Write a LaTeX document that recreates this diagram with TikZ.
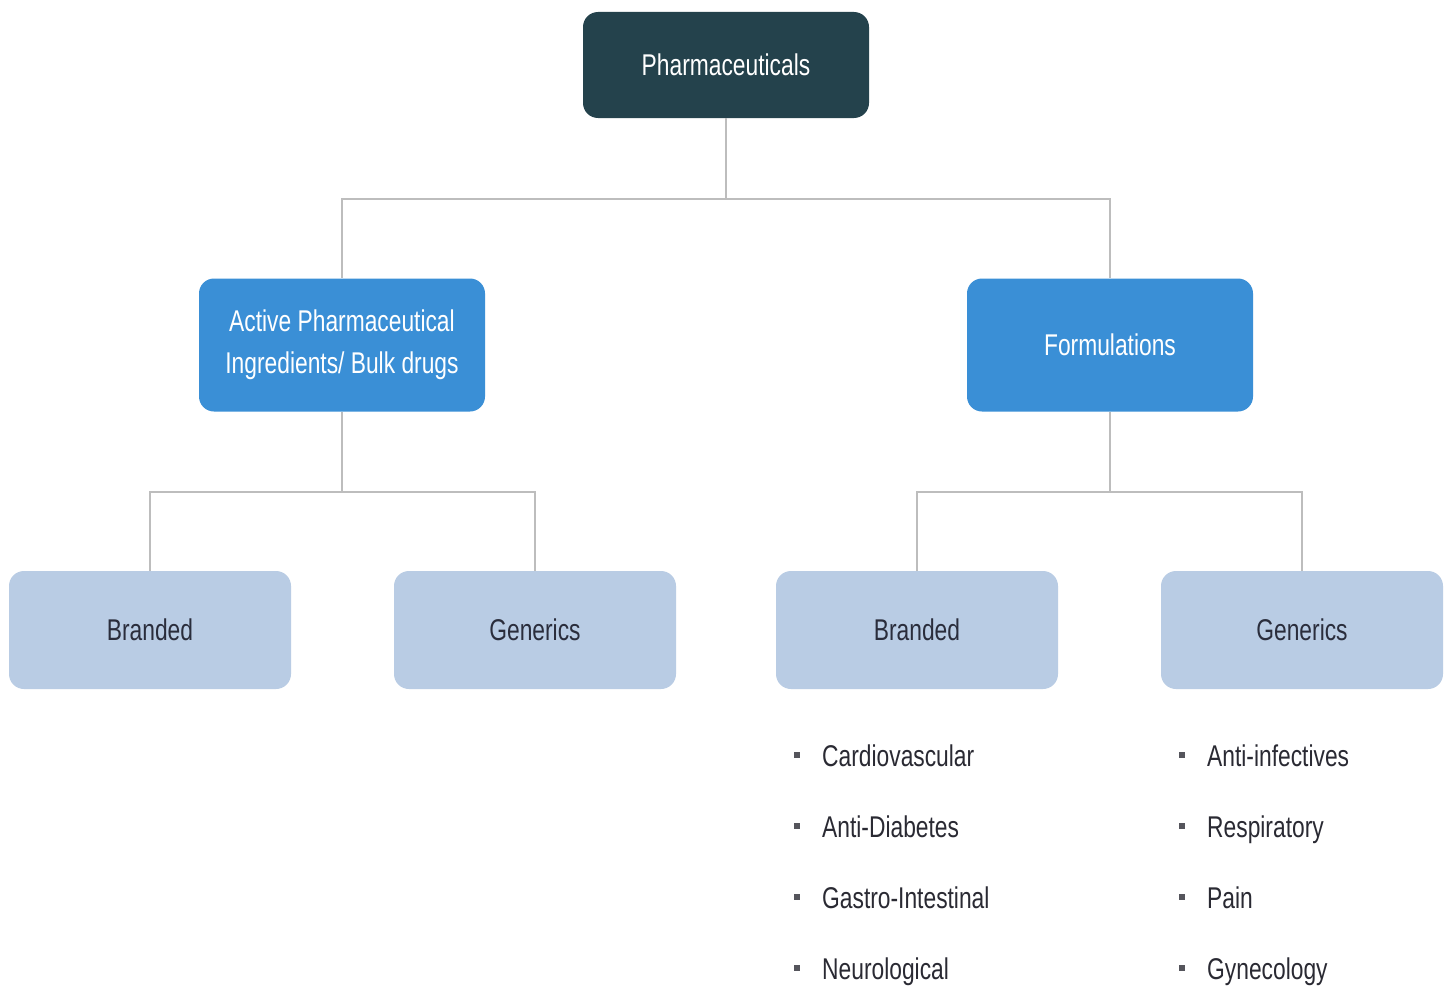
\documentclass[tikz,border=0pt]{standalone}
\usepackage{fontspec}
\setmainfont[FakeStretch=0.76]{Liberation Sans}
\begin{document}
\begin{tikzpicture}[x=1pt,y=-1pt,
  base/.style={rounded corners=15pt, minimum width=286pt, align=center, font=\fontsize{30}{42}\selectfont},
  topbox/.style={base, fill=topc, text=white, minimum height=106pt},
  midbox/.style={base, fill=midc, text=white, minimum height=133pt},
  leafbox/.style={base, fill=leafc, text=leaftext, minimum width=282pt, minimum height=118pt},
  conn/.style={draw=linec, line width=1.3pt},
  item/.style={anchor=base west, text=itemc, font=\fontsize{30}{36}\selectfont, inner sep=0pt},
  bul/.style={fill=itemc!80, minimum size=6pt, inner sep=0pt}
]
\definecolor{topc}{HTML}{24424C}
\definecolor{midc}{HTML}{3A8FD6}
\definecolor{leafc}{HTML}{B9CCE4}
\definecolor{leaftext}{HTML}{2A2D3C}
\definecolor{linec}{HTML}{BDBDBD}
\definecolor{itemc}{HTML}{2A2A33}
\useasboundingbox[fill=white] (0,0) rectangle (1448,990);

\node[topbox] (ph) at (726,65) {Pharmaceuticals};
\node[midbox] (api) at (342,345) {Active Pharmaceutical\\Ingredients/ Bulk drugs};
\node[midbox] (form) at (1110,345) {Formulations};
\node[leafbox] (b1) at (150,630) {Branded};
\node[leafbox] (g1) at (535,630) {Generics};
\node[leafbox] (b2) at (917,630) {Branded};
\node[leafbox] (g2) at (1302,630) {Generics};

\coordinate (j0) at (726,199);
\coordinate (j1) at (342,492);
\coordinate (j2) at (1110,492);

\draw[conn] (ph.south) -- (j0);
\draw[conn] (j0) -| (api.north);
\draw[conn] (j0) -| (form.north);
\draw[conn] (api.south) -- (j1);
\draw[conn] (j1) -| (b1.north);
\draw[conn] (j1) -| (g1.north);
\draw[conn] (form.south) -- (j2);
\draw[conn] (j2) -| (b2.north);
\draw[conn] (j2) -| (g2.north);

\foreach \t [count=\i] in {Cardiovascular,Anti-Diabetes,Gastro-Intestinal,Neurological}{
  \node[bul] (lb\i) at (797,{755+(\i-1)*71}) {};
  \node[item] (lt\i) at (822,{766+(\i-1)*71}) {\t};
}
\foreach \t [count=\i] in {Anti-infectives,Respiratory,Pain,Gynecology}{
  \node[bul] (rb\i) at (1182,{755+(\i-1)*71}) {};
  \node[item] (rt\i) at (1207,{766+(\i-1)*71}) {\t};
}
\end{tikzpicture}
\end{document}
